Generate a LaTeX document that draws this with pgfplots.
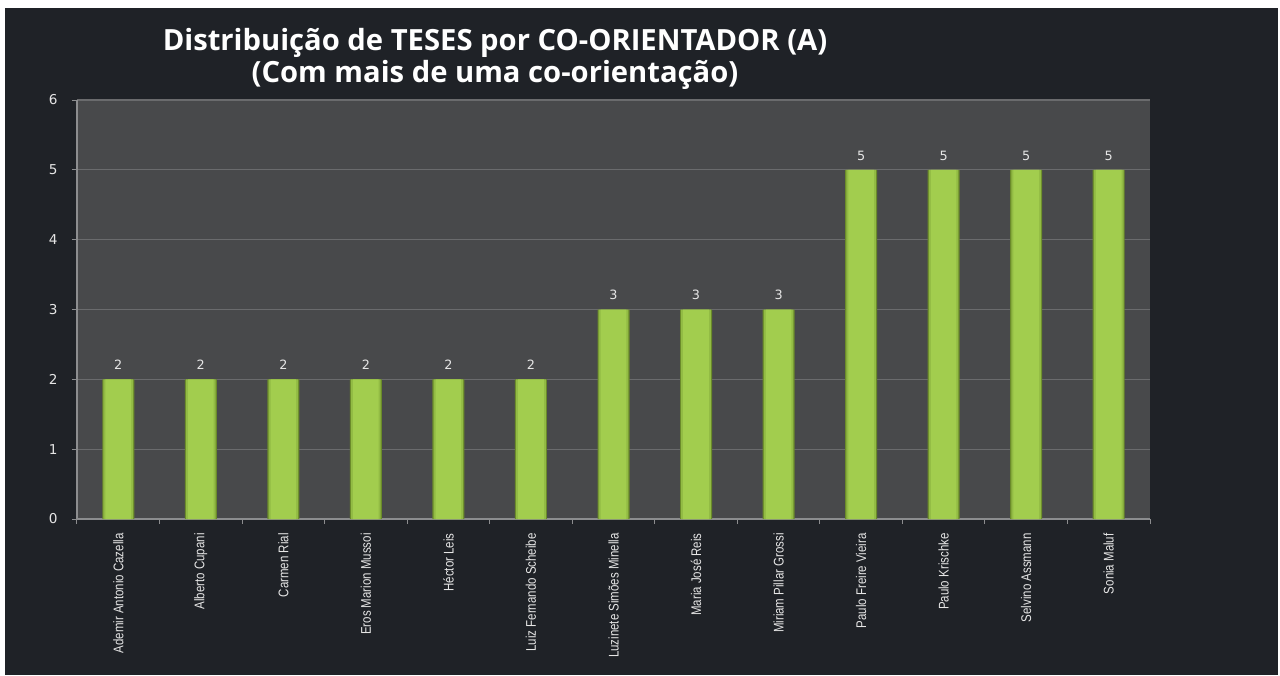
\documentclass[border=0pt]{standalone}
\usepackage{fontspec}
\setmainfont{Liberation Sans}
\newfontfamily\titlefont{Open Sans}
\newfontfamily\narrowfont[FakeStretch=0.82]{Liberation Sans}
\newfontfamily\numfont{DejaVu Sans}
\usepackage{pgfplots}
\pgfplotsset{compat=1.18}

\definecolor{BgDark}{HTML}{1F2227}
\definecolor{PlotGrey}{HTML}{48494B}
\definecolor{GridGrey}{HTML}{6A6B6D}
\definecolor{AxisGrey}{HTML}{8C8D8F}
\definecolor{BarLight}{HTML}{A2CD4E}
\definecolor{BarMid}{HTML}{92BB44}
\definecolor{BarEdge}{HTML}{6A8A2A}
\definecolor{LabelGrey}{HTML}{E6E6E6}

\begin{document}
\begin{tikzpicture}
  % page: 1280x675 px at 0.5pt per px
  \fill[white] (0,0) rectangle (640pt,-337.5pt);
  \path[use as bounding box] (0,0) rectangle (640pt,-337.5pt);
  \fill[BgDark] (2.5pt,-4pt) rectangle (639pt,-337.5pt);

  \node[align=center, text=white,
        font=\titlefont\bfseries\fontsize{14.6}{13.3}\selectfont]
    at (247.5pt,-29.5pt)
    {Distribuição de TESES por CO-ORIENTADOR (A)\\(Com mais de uma co-orientação)};

  \begin{axis}[
      at={(38.5pt,-259.5pt)}, anchor=south west,
      scale only axis,
      width=536.5pt, height=209.5pt,
      xmin=-0.5, xmax=12.5,
      ymin=0, ymax=6,
      axis background/.style={fill=PlotGrey},
      axis lines=left,
      axis line style={-, draw=AxisGrey, line width=0.6pt},
      ymajorgrids,
      grid style={draw=GridGrey, line width=0.6pt},
      ytick={0,1,2,3,4,5,6},
      xtick={0,1,...,12},
      minor xtick={-0.5,0.5,...,12.5},
      xticklabels={Ademir Antonio Cazella, Alberto Cupani, Carmen Rial,
        Eros Marion Mussoi, Héctor Leis, Luiz Fernando Scheibe,
        Luzinete Simões Minella, Maria José Reis, Miriam Pillar Grossi,
        Paulo Freire Vieira, Paulo Krischke, Selvino Assmann, Sonia Maluf},
      tick align=outside,
      major tick length=2.5pt,
      minor tick length=2.5pt,
      major x tick style={draw=none},
      tick style={draw=AxisGrey, line width=0.5pt},
      /pgf/number format/assume math mode=true,
      xticklabel style={rotate=90, anchor=east, inner sep=0pt,
        text=LabelGrey, font=\narrowfont\fontsize{7}{7}\selectfont},
      xticklabel shift=4.5pt,
      yticklabel style={text=LabelGrey, font=\numfont\fontsize{6.8}{7}\selectfont,
        inner sep=0pt},
      yticklabel shift=7pt,
    ]
    % outer bar (dark edges)
    \addplot[ybar, bar width=16pt, draw=none, fill=BarEdge]
      coordinates {
        (0,2) (1,2) (2,2) (3,2) (4,2) (5,2)
        (6,3) (7,3) (8,3)
        (9,5) (10,5) (11,5) (12,5)
      };
    % middle band
    \addplot[ybar, bar width=14.8pt, draw=none, fill=BarMid]
      coordinates {
        (0,2) (1,2) (2,2) (3,2) (4,2) (5,2)
        (6,3) (7,3) (8,3)
        (9,5) (10,5) (11,5) (12,5)
      };
    % light core, with the value labels
    \addplot[ybar, bar width=12.8pt, draw=none, fill=BarLight,
             nodes near coords,
             every node near coord/.append style={text=LabelGrey,
               font=\numfont\fontsize{6.4}{7}\selectfont, yshift=1.2pt}]
      coordinates {
        (0,2) (1,2) (2,2) (3,2) (4,2) (5,2)
        (6,3) (7,3) (8,3)
        (9,5) (10,5) (11,5) (12,5)
      };
  \end{axis}
\end{tikzpicture}
\end{document}
